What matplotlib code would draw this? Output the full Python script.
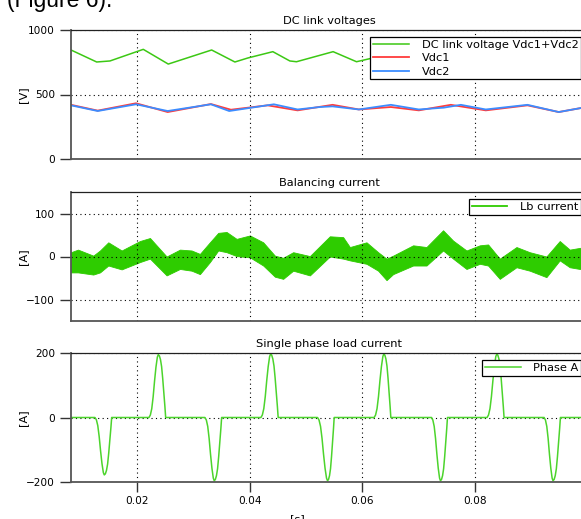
import numpy as np
import matplotlib
matplotlib.use("Agg")
import matplotlib.pyplot as plt

# ---- DC link voltages [V] ----
t_sum = [0.00836, 0.01291, 0.01527, 0.02117, 0.02560, 0.03329, 0.03741, 0.03970,
         0.04414, 0.04715, 0.04833, 0.05482, 0.05897, 0.06500, 0.07000, 0.07570,
         0.08190, 0.08930, 0.09480, 0.10000]
v_sum = [845, 752, 760, 850, 736, 845, 752, 783,
         832, 760, 754, 832, 754, 815, 760, 830,
         760, 835, 730, 810]

t_vdc1 = [0.00836, 0.01309, 0.01988, 0.02549, 0.03316, 0.03671, 0.04321, 0.04852,
          0.05472, 0.05938, 0.06505, 0.07001, 0.07568, 0.08188, 0.08927, 0.09481, 0.10000]
v_vdc1 = [420, 375, 432, 364, 426, 382, 416, 377,
          420, 384, 403, 377, 420, 377, 416, 364, 405]

t_vdc2 = [0.00836, 0.01309, 0.01988, 0.02549, 0.03316, 0.03640, 0.04432, 0.04852,
          0.05247, 0.05472, 0.05938, 0.06505, 0.07001, 0.07444, 0.07746, 0.08188,
          0.08927, 0.09481, 0.10000]
v_vdc2 = [416, 372, 424, 372, 424, 372, 424, 384,
          403, 408, 384, 420, 384, 398, 420, 384,
          420, 364, 405]

# ---- Balancing current envelope [A] ----
t_lb = [0.00836, 0.00960, 0.01231, 0.01350, 0.01497, 0.01734, 0.02058, 0.02236,
        0.02531, 0.02767, 0.02974, 0.03121, 0.03298, 0.03446, 0.03594, 0.03771,
        0.04007, 0.04243, 0.04450, 0.04597, 0.04774, 0.05070, 0.05424, 0.05660,
        0.05779, 0.06074, 0.06280, 0.06429, 0.06546, 0.06900, 0.07137, 0.07431,
        0.07609, 0.07846, 0.08082, 0.08229, 0.08436, 0.08732, 0.08967, 0.09263,
        0.09499, 0.09676, 0.09853, 0.10000]
lb_upper = [10, 16, 2, 14, 33, 14, 36, 43, 0, 16, 14, 6, 33, 55, 57, 41,
            49, 33, 2, -3, 10, 1, 47, 45, 22, 33, 10, -5, 2, 26, 22, 61,
            37, 14, 26, 28, -5, 22, 10, 0, 36, 16, 20, 22]
lb_lower = [-37, -37, -42, -37, -21, -30, -13, -5, -44, -29, -33, -41, -13, 14, 10, 1,
            -2, -21, -47, -52, -33, -44, 0, -5, -9, -17, -33, -55, -41, -21, -21, 14,
            -5, -29, -17, -21, -52, -25, -33, -48, -9, -25, -29, -25]

# ---- Single phase load current pulses [A] ----
pulse_start = [0.01261, 0.02218, 0.03210, 0.04202, 0.05206, 0.06209, 0.07226, 0.08211, 0.09222]
pulse_peak = [0.01426, 0.02383, 0.03375, 0.04374, 0.05383, 0.06381, 0.07385, 0.08383, 0.09380]
pulse_end = [0.01557, 0.02514, 0.03506, 0.04508, 0.05501, 0.06505, 0.07509, 0.08512, 0.09511]
pulse_amp = [-178, 195, -196, 197, -196, 197, -196, 197, -196]

# normalised pulse profile: rising edge and falling edge
rise_frac = [0.0, 0.15, 0.3, 0.45, 0.6, 0.75, 0.9, 1.0]
rise_val = [0.0, 0.04, 0.14, 0.33, 0.58, 0.80, 0.96, 1.0]
fall_frac = [0.15, 0.3, 0.45, 0.6, 0.75, 0.9, 1.0]
fall_val = [0.98, 0.92, 0.81, 0.62, 0.40, 0.17, 0.0]

x_min, x_max = 0.00836, 0.1

# build the phase current polyline
t_ph = [x_min]
i_ph = [0.0]
for s, p, e, a in zip(pulse_start, pulse_peak, pulse_end, pulse_amp):
    for f, v in zip(rise_frac, rise_val):
        t_ph.append(s + f * (p - s))
        i_ph.append(a * v)
    for f, v in zip(fall_frac, fall_val):
        t_ph.append(p + f * (e - p))
        i_ph.append(a * v)
t_ph.append(x_max)
i_ph.append(0.0)

plt.rcParams['font.family'] = ['DejaVu Sans']
FS_TICK = 7.6
FS_TEXT = 8.2

W, H = 581, 519
fig = plt.figure(figsize=(W / 100, H / 100), dpi=100)

ax_left = 71 / W
ax_width = (588 - 71) / W
ylabel_x = (28 - 71) / (588 - 71)


def make_axes(top_px, bottom_px):
    ax = fig.add_axes([ax_left, 1 - bottom_px / H, ax_width, (bottom_px - top_px) / H])
    ax.set_xlim(x_min, x_max)
    ax.spines['right'].set_visible(False)
    ax.spines['left'].set_color('#555555')
    ax.spines['left'].set_linewidth(1.3)
    ax.spines['bottom'].set_color('#555555')
    ax.spines['bottom'].set_linewidth(1.3)
    ax.spines['top'].set_color('#222222')
    ax.spines['top'].set_linewidth(0.9)
    ax.set_xticks([0.02, 0.04, 0.06, 0.08])
    ax.grid(True, color='black', linestyle=(0, (1, 3)), linewidth=0.8)
    ax.tick_params(axis='y', direction='out', length=8, width=1.0, color='#333333',
                   labelsize=FS_TICK, pad=3.5)
    ax.tick_params(axis='x', direction='out', length=7, width=1.0, color='#333333',
                   labelsize=FS_TICK, pad=3)
    return ax


def legend(ax, handles, labels):
    leg = ax.legend(handles, labels, loc='upper right', fontsize=FS_TEXT, frameon=True,
                    fancybox=False, framealpha=1, edgecolor='black',
                    borderaxespad=0.6, handlelength=3.15, handletextpad=1.1,
                    borderpad=0.25, labelspacing=0.3)
    leg.get_frame().set_linewidth(0.9)
    return leg


# top panel: DC link voltages
ax1 = make_axes(30, 159)
l_sum, = ax1.plot(t_sum, v_sum, color='#3cc814', lw=1.1)
l_v1, = ax1.plot(t_vdc1, v_vdc1, color='#ff3c3c', lw=1.3)
l_v2, = ax1.plot(t_vdc2, v_vdc2, color='#3c8cff', lw=1.3)
ax1.set_ylim(0, 1000)
ax1.set_yticks([0, 500, 1000])
ax1.tick_params(axis='x', length=0, labelbottom=False)
ax1.set_ylabel('[V]', fontsize=FS_TEXT)
ax1.yaxis.set_label_coords(ylabel_x, 0.5)
ax1.set_title('DC link voltages', fontsize=FS_TEXT, pad=4)
legend(ax1, [l_sum, l_v1, l_v2], ['DC link voltage Vdc1+Vdc2', 'Vdc1', 'Vdc2'])

# middle panel: balancing current
ax2 = make_axes(192, 321)
ax2.fill_between(t_lb, lb_lower, lb_upper, color='#2ecc00', lw=0.6, edgecolor='#2ecc00')
h_lb, = ax2.plot([], [], color='#2ecc00', lw=1.3)
ax2.set_ylim(-150, 150)
ax2.set_yticks([-100, 0, 100])
ax2.tick_params(axis='x', length=0, labelbottom=False)
ax2.set_ylabel('[A]', fontsize=FS_TEXT)
ax2.yaxis.set_label_coords(ylabel_x, 0.5)
ax2.set_title('Balancing current', fontsize=FS_TEXT, pad=4)
legend(ax2, [h_lb], ['Lb current'])

# bottom panel: single phase load current
ax3 = make_axes(353, 482)
l_ph, = ax3.plot(t_ph, i_ph, color='#4cd42c', lw=1.1)
ax3.set_ylim(-200, 200)
ax3.set_yticks([-200, 0, 200])
ax3.set_ylabel('[A]', fontsize=FS_TEXT)
ax3.yaxis.set_label_coords(ylabel_x, 0.5)
ax3.set_title('Single phase load current', fontsize=FS_TEXT, pad=4)
ax3.set_xlabel('[s]', fontsize=FS_TEXT)
ax3.xaxis.set_label_coords((297 - 71) / (588 - 71), -0.245)
legend(ax3, [l_ph], ['Phase A'])

# caption fragment of the surrounding page, running off the top edge
fig.text(7 / W, 1 - 7 / H, '(Figure 6).', fontsize=16.5, family='Liberation Sans',
         ha='left', va='baseline')

fig.savefig('out.png', dpi=100)
